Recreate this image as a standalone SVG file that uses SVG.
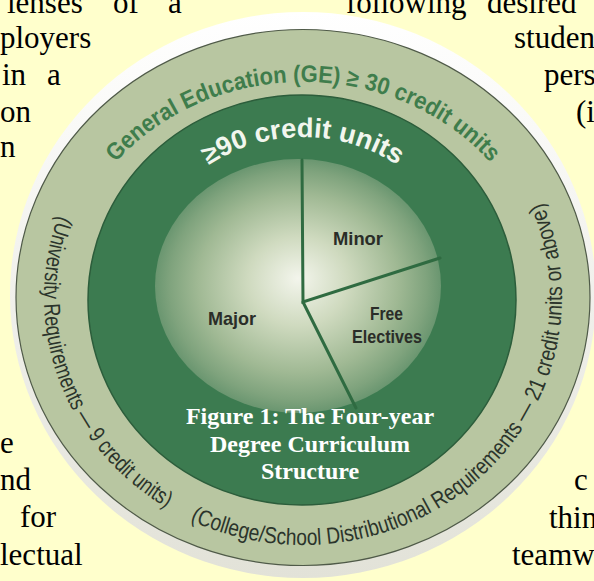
<svg xmlns="http://www.w3.org/2000/svg" width="594" height="581" viewBox="0 0 594 581">
<style>
.para{font-family:"Liberation Serif","Times New Roman",serif;font-size:31px;fill:#000}
.ge{font-family:"Liberation Sans",Arial,sans-serif;font-weight:bold;font-size:24px;fill:#3f7d4c}
.req{font-family:"Liberation Sans",Arial,sans-serif;font-size:23px;fill:#2b342b}
.inner{font-family:"Liberation Sans",Arial,sans-serif;font-weight:bold;font-size:27px;fill:#f2f6ee}
.lab{font-family:"Liberation Sans",Arial,sans-serif;font-weight:bold;font-size:19px;fill:#2a2d28}
.cap{font-family:"Liberation Serif","Times New Roman",serif;font-weight:bold;font-size:24px;fill:#fff;text-anchor:middle}
.pie{stroke:#2f6b41;stroke-width:3;fill:none;stroke-linecap:round}
</style>
<defs>
<linearGradient id="rim" x1="0" y1="0" x2="0" y2="1">
<stop offset="0" stop-color="#ffffff"/>
<stop offset="1" stop-color="#e2e2d8"/>
</linearGradient>
<radialGradient id="sph" cx="0.5" cy="0.5" r="0.5" fx="0.5" fy="0.47">
<stop offset="0" stop-color="#f3f5ec"/>
<stop offset="0.35" stop-color="#cfdabf"/>
<stop offset="0.7" stop-color="#a0b994"/>
<stop offset="0.9" stop-color="#7fa37d"/>
<stop offset="1" stop-color="#6a9670"/>
</radialGradient>
<path id="pGE" d="M 63 297 A 240 215 0 0 1 543 297"/>
<path id="pIn" d="M 135 300 A 168 163 0 0 1 471 300"/>
<path id="pLeft" d="M 59.6 212.2 A 259 248 0 0 0 169.6 509.6"/>
<path id="pBot" d="M 185.4 518 A 259 248 0 0 0 540.3 197.7"/>
</defs>
<rect width="594" height="581" fill="#ffffcc"/>
<g id="paragraph">
<text class="para" y="13"><tspan x="7">lenses</tspan><tspan x="113">of</tspan><tspan x="168">a</tspan></text>
<text class="para" x="0" y="48">ployers</text>
<text class="para" y="85"><tspan x="2">in</tspan><tspan x="47">a</tspan></text>
<text class="para" x="0" y="122">on</text>
<text class="para" x="0" y="157">n</text>
<text class="para" y="13"><tspan x="346">following</tspan><tspan x="487">desired</tspan></text>
<text class="para" x="514" y="48">studen</text>
<text class="para" x="544" y="85">pers</text>
<text class="para" x="576" y="122">(i</text>
<text class="para" x="0" y="453">e</text>
<text class="para" x="0" y="490">nd</text>
<text class="para" x="20" y="527">for</text>
<text class="para" x="0" y="565">lectual</text>
<text class="para" x="574" y="490">c</text>
<text class="para" x="549" y="528">thin</text>
<text class="para" x="512" y="565">teamw</text>
</g>
<g id="outer-ring">
<ellipse cx="303" cy="295" rx="293" ry="283" fill="url(#rim)"/>
<ellipse cx="303" cy="297.5" rx="287" ry="268" fill="#b8c6a1" stroke="#4f5a48" stroke-width="1.2"/>
</g>
<g id="ge-ring">
<ellipse cx="302" cy="300" rx="214" ry="205" fill="#3c7b50" stroke="#2c5d3b" stroke-width="1.5"/>
</g>
<g id="core">
<ellipse cx="298" cy="286" rx="143" ry="127" fill="url(#sph)"/>
</g>
<g id="connectors">
<polyline class="pie" points="302,160 303,302 440,258"/>
<line class="pie" x1="303" y1="302" x2="356" y2="408"/>
</g>
<g id="ring-labels">
<text class="ge"><textPath href="#pGE" startOffset="50%" text-anchor="middle" textLength="420" lengthAdjust="spacingAndGlyphs">General Education (GE)  ≥ 30 credit units</textPath></text>
<text class="inner"><textPath href="#pIn" startOffset="50%" text-anchor="middle" textLength="200" lengthAdjust="spacingAndGlyphs">≥90 credit units</textPath></text>
<text class="req"><textPath href="#pLeft" startOffset="50%" text-anchor="middle" textLength="338" lengthAdjust="spacingAndGlyphs">(University Requirements — 9 credit units)</textPath></text>
<text class="req"><textPath href="#pBot" startOffset="50%" text-anchor="middle" textLength="612" lengthAdjust="spacingAndGlyphs">(College/School Distributional Requirements — 21 credit units or above)</textPath></text>
</g>
<g id="node-major"><text class="lab" x="208" y="325" textLength="48" lengthAdjust="spacingAndGlyphs">Major</text></g>
<g id="node-minor"><text class="lab" x="333" y="245" textLength="50" lengthAdjust="spacingAndGlyphs">Minor</text></g>
<g id="node-free">
<text class="lab" x="370" y="320" textLength="33" lengthAdjust="spacingAndGlyphs">Free</text>
<text class="lab" x="352" y="343" textLength="70" lengthAdjust="spacingAndGlyphs">Electives</text>
</g>
<g id="caption">
<text class="cap" x="310" y="424">Figure 1: The Four-year</text>
<text class="cap" x="310" y="452">Degree Curriculum</text>
<text class="cap" x="310" y="479">Structure</text>
</g>
</svg>
